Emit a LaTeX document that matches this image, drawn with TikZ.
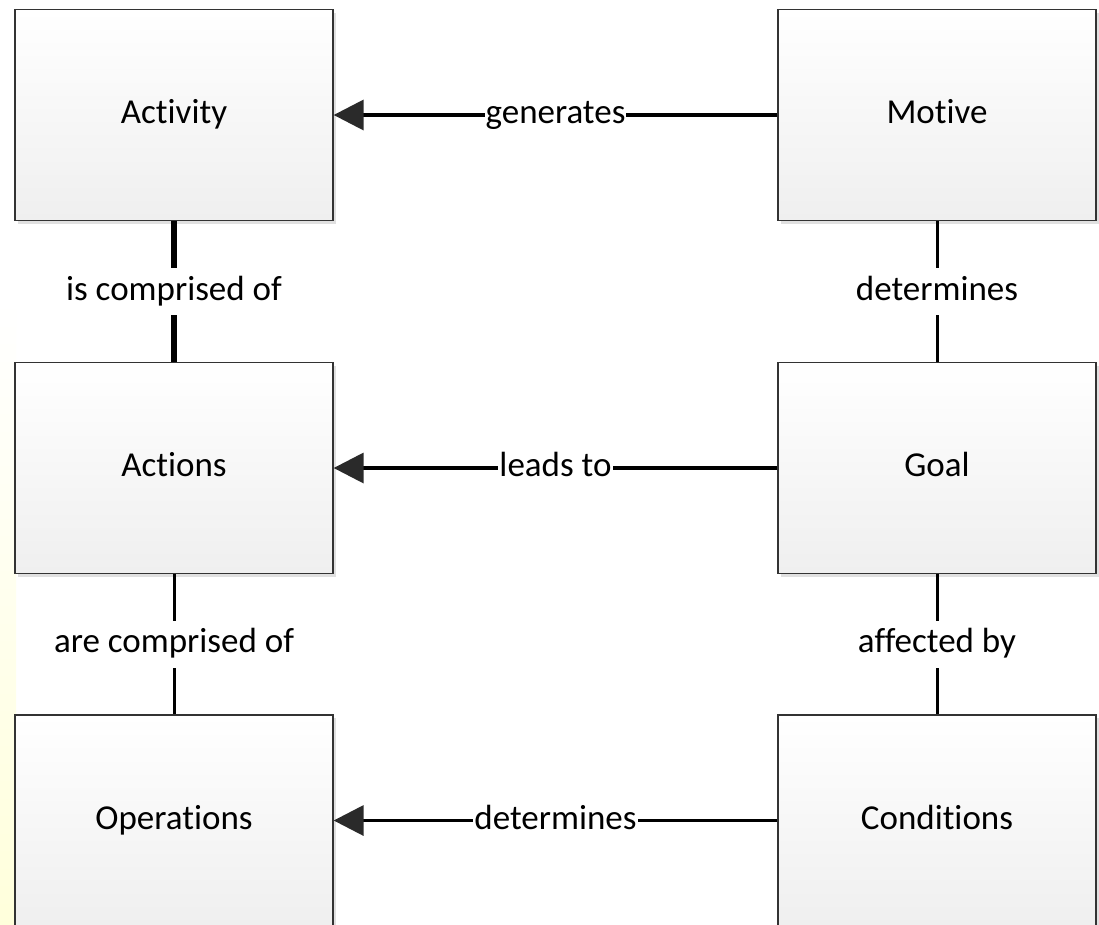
\documentclass[tikz,border=0pt]{standalone}
\usepackage{fontspec}
\setmainfont{Carlito}[Ligatures=NoCommon]
\usetikzlibrary{arrows.meta,shadows}
\definecolor{boxline}{HTML}{333333}
\definecolor{boxbot}{HTML}{EFEFEF}
\definecolor{tipgray}{HTML}{2A2A2A}
\tikzset{
  conceptbox/.style={draw=boxline, line width=1.3pt, top color=white, bottom color=boxbot,
    minimum width=318pt, minimum height=211pt, inner sep=0pt,
    font=\fontsize{35}{40}\selectfont, text height=24pt, text depth=7pt,
    drop shadow={shadow xshift=3pt, shadow yshift=-3pt, fill=black!12, opacity=1}},
  lbl/.style={fill=white, inner xsep=1pt, inner ysep=8pt, text height=24pt, text depth=7pt,
    font=\fontsize{35}{40}\selectfont},
  harrow/.style={line width=3.5pt, black,
    -{Triangle[length=30pt,width=30pt,fill=tipgray,color=tipgray]}},
  vlink/.style={line width=3pt, black},
  vthick/.style={line width=6pt, black}
}
\begin{document}
\begin{tikzpicture}[x=1pt,y=-1pt]
\useasboundingbox (0,0) rectangle (1099,924);
\fill[white] (0,0) rectangle (1099,924);
\shade[top color=white, bottom color=yellow!14] (0,300) rectangle (16,924);
\node[conceptbox] (activity) at (174,115) {Activity};
\node[conceptbox] (motive) at (937,115) {Motive};
\node[conceptbox] (actions) at (174,468) {Actions};
\node[conceptbox] (goal) at (937,468) {Goal};
\node[conceptbox] (operations) at (174,820.5) {Operations};
\node[conceptbox] (conditions) at (937,820.5) {Conditions};
\draw[harrow] (motive.west) -- node[lbl] {generates} (activity.east);
\draw[harrow] (goal.west) -- node[lbl] {leads to} (actions.east);
\draw[harrow] (conditions.west) -- node[lbl] {determines} (operations.east);
\draw[vthick] (activity.south) -- node[lbl] {is comprised of} (actions.north);
\draw[vlink] (actions.south) -- node[lbl] {are comprised of} (operations.north);
\draw[vlink] (motive.south) -- node[lbl] {determines} (goal.north);
\draw[vlink] (goal.south) -- node[lbl] {affected by} (conditions.north);
\end{tikzpicture}
\end{document}
